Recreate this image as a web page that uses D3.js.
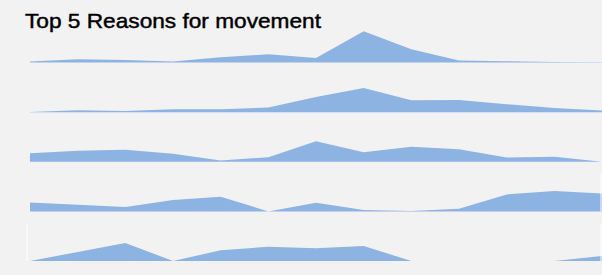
<!DOCTYPE html>
<html>
<head>
<meta charset="utf-8">
<script src="https://cdn.jsdelivr.net/npm/d3@7"></script>
<style>
  html, body { margin: 0; padding: 0; background: #f2f2f2; }
  svg { display: block; }
</style>
</head>
<body>
<div id="chart"></div>
<script>
// 13 periods along x, one area per reason
var periods = d3.range(1, 14);
var reasons = ["Reason 1", "Reason 2", "Reason 3", "Reason 4", "Reason 5"];

var reason1 = [1, 3.3, 2.7, 1, 5.3, 8.3, 4.5, 31.3, 13.3, 2, 1.3, 0.7, 0.3];
var reason2 = [0.3, 2, 1.3, 3, 3, 4.7, 15.3, 24.3, 12, 12.3, 8, 4.3, 1.7];
var reason3 = [8.6, 11, 12, 8, 1.3, 4.6, 20.5, 9.6, 15, 12.6, 4.3, 5, 0];
var reason4 = [9, 6.6, 4.3, 11.3, 14.6, 0, 8.6, 1.3, 0.3, 2.6, 17, 20.3, 18];
var reason5 = [0, 9, 18, 0, 10.7, 14.3, 12.7, 15, 0, 0, 0, 0, 5];

var series = [reason1, reason2, reason3, reason4, reason5];

var width = 602, height = 275;
var fill = "#8db3e2";

var svg = d3.select("#chart")
    .append("svg")
    .attr("width", width)
    .attr("height", height);

svg.append("rect")
    .attr("width", width)
    .attr("height", height)
    .attr("fill", "#f2f2f2");

svg.append("text")
    .attr("x", 25)
    .attr("y", 28)
    .attr("font-family", "'Liberation Sans', Arial, sans-serif")
    .attr("font-size", 21)
    .attr("fill", "#000")
    .attr("stroke", "#000")
    .attr("stroke-width", 0.45)
    .attr("textLength", 296)
    .attr("lengthAdjust", "spacingAndGlyphs")
    .text("Top 5 Reasons for movement");

var x = d3.scaleLinear()
    .domain(d3.extent(periods))
    .range([30, 602]);

// each small multiple gets a row; baseline sits at the bottom of its band
var row = d3.scaleBand()
    .domain(reasons)
    .range([13, 261]);

// shared value scale across all rows
var y = d3.scaleLinear()
    .domain([0, 36])
    .range([0, 36]);

var rows = svg.selectAll("g.row")
    .data(reasons)
    .enter()
    .append("g")
    .attr("class", "row")
    .attr("transform", function(d) {
        return "translate(0," + (row(d) + row.bandwidth()) + ")";
    });

rows.append("path")
    .attr("fill", fill)
    .attr("d", function(d, i) {
        var area = d3.area()
            .x(function(v, j) { return x(periods[j]); })
            .y0(0)
            .y1(function(v) { return -y(v); });
        return area(series[i]);
    });

// white guide lines seen on the last two rows
var guides = [
    {reason: "Reason 4", p: 13},
    {reason: "Reason 5", p: 1},
    {reason: "Reason 5", p: 13}
];
svg.selectAll("line.guide")
    .data(guides)
    .enter()
    .append("line")
    .attr("class", "guide")
    .attr("x1", function(d) { return x(d.p) + (d.p == 1 ? -3 : -1); })
    .attr("x2", function(d) { return x(d.p) + (d.p == 1 ? -3 : -1); })
    .attr("y1", function(d) { return row(d.reason) + row.bandwidth() - 37; })
    .attr("y2", function(d) { return row(d.reason) + row.bandwidth(); })
    .attr("stroke", "#fff")
    .attr("stroke-width", 1);
</script>
</body>
</html>
